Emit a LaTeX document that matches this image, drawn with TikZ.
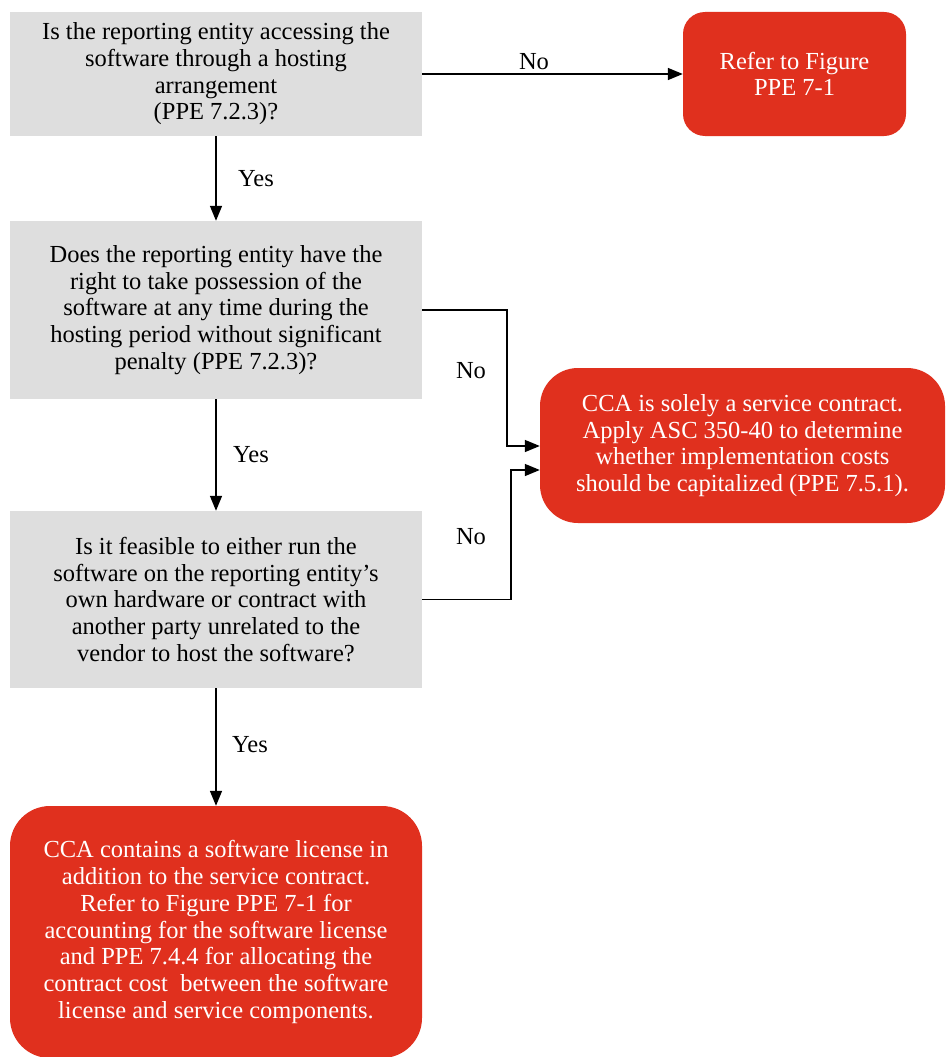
\documentclass[tikz,border=0pt]{standalone}
\usepackage{fontspec}
\setmainfont{Liberation Serif}
\usetikzlibrary{arrows.meta}
\definecolor{boxgray}{HTML}{DEDEDE}
\definecolor{pwcred}{HTML}{E0301E}
\begin{document}
\begin{tikzpicture}[x=1pt,y=-1pt,
  txt/.style={font=\fontsize{24.5}{26.7}\selectfont},
  q/.style={txt, fill=boxgray, align=center, inner sep=0pt, text=black, minimum width=412pt},
  r/.style={txt, fill=pwcred, align=center, inner sep=0pt, text=white},
  arr/.style={line width=1.5pt, -{Triangle[length=15pt,width=12pt]}},
  lab/.style={txt, inner sep=0pt}]
\fill[white] (0,0) rectangle (945,1057);
\useasboundingbox (0,0) rectangle (945,1057);

\node[q, minimum height=124pt] (q1) at (216,74)
  {Is the reporting entity accessing the\\software through a hosting\\arrangement\\(PPE 7.2.3)?};
\node[r, minimum width=223pt, minimum height=124pt, rounded corners=22pt] (r1) at (794.5,74)
  {Refer to Figure\\PPE 7-1};
\node[q, minimum height=178pt] (q2) at (216,310)
  {Does the reporting entity have the\\right to take possession of the\\software at any time during the\\hosting period without significant\\penalty (PPE 7.2.3)?};
\node[q, minimum height=177pt] (q3) at (216,599.5)
  {Is it feasible to either run the\\software on the reporting entity’s\\own hardware or contract with\\another party unrelated to the\\vendor to host the software?};
\node[r, minimum width=405pt, minimum height=155pt, rounded corners=38pt] (r2) at (742.5,445.5)
  {CCA is solely a service contract.\\Apply ASC 350-40 to determine\\whether implementation costs\\should be capitalized (PPE 7.5.1).};
\node[r, minimum width=412pt, minimum height=252pt, rounded corners=40pt] (r3) at (216,932)
  {CCA contains a software license in\\addition to the service contract.\\Refer to Figure PPE 7-1 for\\accounting for the software license\\and PPE 7.4.4 for allocating the\\contract cost \ between the software\\license and service components.};

\draw[arr] (q1.east) -- (r1.west);
\draw[arr] (q1.south) -- (q2.north);
\draw[arr] (q2.south) -- (q3.north);
\draw[arr] (q3.south) -- (r3.north);
\draw[arr] (q2.east) -- ++(85,0) |- ([yshift=-0.5pt]r2.west);
\draw[arr] (q3.east) -- ++(89,0) |- ([yshift=-24.5pt]r2.west);

\node[lab] (no1) at (534,62) {No};
\node[lab] (no2) at (471,371) {No};
\node[lab] (no3) at (471,537) {No};
\node[lab] (yes1) at (256,179) {Yes};
\node[lab] (yes2) at (251,455) {Yes};
\node[lab] (yes3) at (250,745) {Yes};
\end{tikzpicture}
\end{document}
